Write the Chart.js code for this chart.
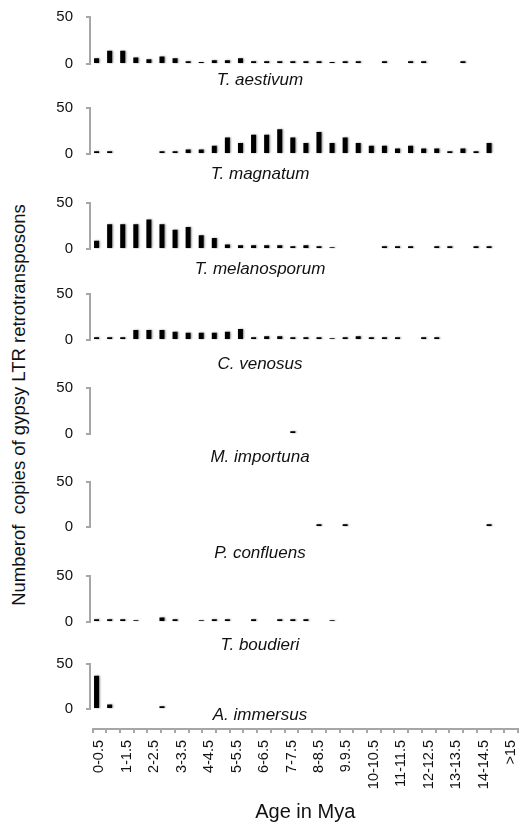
<!DOCTYPE html>
<html>
<head>
<meta charset="utf-8">
<script src="https://cdn.jsdelivr.net/npm/chart.js@4.4.1/dist/chart.umd.min.js"></script>
<style>
  html, body { margin: 0; padding: 0; background: #fff; }
  #fig { position: relative; width: 520px; height: 825px; overflow: hidden; }
  .panel { position: absolute; left: 0; width: 520px; }
  #ytitle {
    position: absolute; left: 19px; top: 405px;
    transform: translate(-50%, -50%) rotate(-90deg);
    font: 18.5px "Liberation Sans", Arial, sans-serif; color: #111;
    white-space: pre;
  }
</style>
</head>
<body>
<div id="fig">
  <div id="ytitle">Numberof  copies of gypsy LTR retrotransposons</div>
</div>
<script>
// age bins (Mya) used on the shared x axis
var ageBins = ['0-0.5', '0.5-1', '1-1.5', '1.5-2', '2-2.5', '2.5-3', '3-3.5', '3.5-4',
  '4-4.5', '4.5-5', '5-5.5', '5.5-6', '6-6.5', '6.5-7', '7-7.5', '7.5-8', '8-8.5',
  '8.5-9', '9.9.5', '9.5-10', '10-10.5', '10.5-11', '11-11.5', '11.5-12', '12-12.5',
  '12.5-13', '13-13.5', '13.5-14', '14-14.5', '14.5-15', '>15'];

var species = ['T. aestivum', 'T. magnatum', 'T. melanosporum', 'C. venosus',
  'M. importuna', 'P. confluens', 'T. boudieri', 'A. immersus'];

// copies per age bin, one array per genome
var aestivum     = [6, 14, 14, 7, 5, 8, 6, 3, 2, 4, 4, 6, 3, 3, 3, 3, 3, 3, 2, 3, 3, 0, 3, 0, 3, 3, 0, 0, 3, 0, 0];
var magnatum     = [3, 3, 0, 0, 0, 3, 3, 5, 5, 9, 18, 12, 21, 21, 27, 18, 12, 24, 12, 18, 12, 9, 9, 6, 9, 6, 6, 3, 6, 3, 12];
var melanosporum = [9, 27, 27, 27, 32, 27, 21, 24, 15, 12, 5, 4, 4, 4, 4, 3, 4, 3, 2, 0, 0, 0, 3, 3, 3, 0, 3, 3, 0, 3, 3];
var venosus      = [3, 3, 3, 11, 11, 11, 9, 8, 8, 8, 9, 12, 3, 4, 4, 3, 3, 3, 2, 3, 4, 3, 3, 3, 0, 3, 3, 0, 0, 0, 0];
var importuna    = [0, 0, 0, 0, 0, 0, 0, 0, 0, 0, 0, 0, 0, 0, 0, 3, 0, 0, 0, 0, 0, 0, 0, 0, 0, 0, 0, 0, 0, 0, 0];
var confluens    = [0, 0, 0, 0, 0, 0, 0, 0, 0, 0, 0, 0, 0, 0, 0, 0, 0, 3, 0, 3, 0, 0, 0, 0, 0, 0, 0, 0, 0, 0, 3];
var boudieri     = [3, 3, 3, 2, 0, 5, 3, 0, 2, 3, 3, 0, 3, 0, 3, 3, 3, 0, 2, 0, 0, 0, 0, 0, 0, 0, 0, 0, 0, 0, 0];
var immersus     = [37, 5, 0, 0, 0, 3, 0, 0, 0, 0, 0, 0, 0, 0, 0, 0, 0, 0, 0, 0, 0, 0, 0, 0, 0, 0, 0, 0, 0, 0, 0];

var yTicks = [0, 50];

var series = [aestivum, magnatum, melanosporum, venosus, importuna, confluens, boudieri, immersus];

// panel layout: top of plot area, plot height, species label offset below zero
var panelTop = [17, 108, 203, 294, 388, 482, 576, 664];
var panelH   = [47, 46, 46, 46, 46, 45, 46, 45];
var labelDy  = [16, 20, 20, 24, 23, 26, 23, 6];

var FONT = '"Liberation Sans", Arial, sans-serif';
var INK = '#111';
var AXIS = '#a6a6a6';
Chart.defaults.font.family = FONT;
Chart.defaults.color = INK;

var speciesLabel = {
  id: 'speciesLabel',
  afterDraw: function (chart, args, opts) {
    var ctx = chart.ctx;
    ctx.save();
    ctx.font = 'italic 17px ' + FONT;
    ctx.fillStyle = INK;
    ctx.textAlign = 'center';
    ctx.textBaseline = 'middle';
    ctx.fillText(opts.text, opts.x, chart.chartArea.bottom + opts.dy);
    ctx.restore();
  }
};

// soft edge on the bars
var barHaze = {
  id: 'barHaze',
  beforeDatasetsDraw: function (chart) {
    var ctx = chart.ctx;
    ctx.save();
    ctx.shadowColor = 'rgba(0,0,0,0.45)';
    ctx.shadowBlur = 2;
    ctx.shadowOffsetX = 1;
  },
  afterDatasetsDraw: function (chart) { chart.ctx.restore(); }
};

function addBox(top, height) {
  var div = document.createElement('div');
  div.className = 'panel';
  div.style.top = top + 'px';
  div.style.height = height + 'px';
  var cv = document.createElement('canvas');
  div.appendChild(cv);
  document.getElementById('fig').appendChild(div);
  return cv;
}

function panel(i) {
  var padTop = 10, padBottom = 38;
  var cv = addBox(panelTop[i] - padTop, panelH[i] + padTop + padBottom);
  new Chart(cv, {
    type: 'bar',
    data: {
      labels: ageBins,
      datasets: [{ data: series[i], backgroundColor: '#000', borderWidth: 0, barThickness: 5, inflateAmount: 0 }]
    },
    options: {
      responsive: true, maintainAspectRatio: false, animation: false,
      layout: { padding: { left: 0, right: 24.4, top: padTop, bottom: padBottom } },
      plugins: {
        legend: { display: false }, tooltip: { enabled: false },
        speciesLabel: { text: species[i], x: 260, dy: labelDy[i] }
      },
      scales: {
        x: { display: false },
        y: {
          min: yTicks[0], max: yTicks[1],
          afterFit: function (s) { s.width = 90; s.paddingTop = 0; s.paddingBottom = 0; },
          afterBuildTicks: function (s) { s.ticks = yTicks.map(function (v) { return { value: v }; }); },
          ticks: { font: { size: 15 }, color: INK, padding: 13 },
          grid: { drawOnChartArea: false, drawTicks: true, tickLength: 4, color: AXIS, lineWidth: 2 },
          border: { color: AXIS, width: 2 }
        }
      }
    },
    plugins: [speciesLabel, barHaze]
  });
}

for (var i = 0; i < series.length; i++) panel(i);

// shared age axis along the bottom
var axisCv = addBox(700, 125);
new Chart(axisCv, {
  type: 'bar',
  data: { labels: ageBins, datasets: [] },
  options: {
    responsive: true, maintainAspectRatio: false, animation: false,
    layout: { padding: { left: 92.5, right: 2, top: 0, bottom: 0 } },
    plugins: { legend: { display: false }, tooltip: { enabled: false } },
    scales: {
      x: {
        afterFit: function (s) { s.height = 96; s.paddingLeft = 0; s.paddingRight = 0; },
        ticks: {
          autoSkip: false, minRotation: 90, maxRotation: 90, padding: 7,
          font: { size: 14.5 }, color: INK,
          callback: function (v, idx) { return idx % 2 === 0 ? ageBins[idx] : ''; }
        },
        grid: { offset: true, drawOnChartArea: false, drawTicks: true, tickLength: 4, color: AXIS, lineWidth: 2 },
        border: { color: AXIS, width: 2 },
        title: { display: true, text: 'Age in Mya', font: { size: 20 }, color: INK, padding: { top: 0, bottom: 1 } }
      },
      y: { display: false, min: 0, max: 1 }
    }
  }
});
</script>
</body>
</html>
